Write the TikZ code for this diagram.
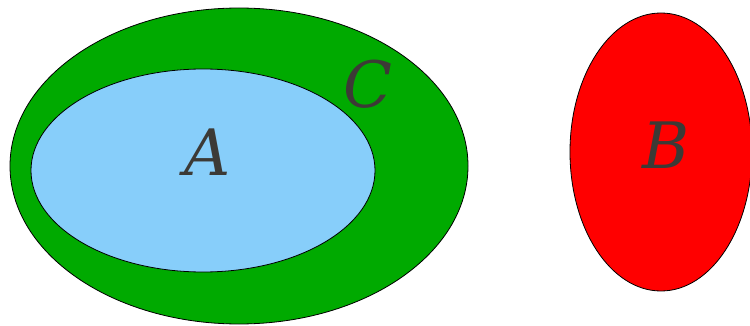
\documentclass[tikz,border=0pt]{standalone}
\usepackage{fontspec}
\newfontfamily\lblfont{DejaVu Serif}
\definecolor{cgreen}{HTML}{00AA00}
\definecolor{cblue}{HTML}{87CEFA}
\definecolor{cred}{HTML}{FF0000}
\definecolor{ctext}{HTML}{3C3A36}
\begin{document}
\begin{tikzpicture}[x=1pt,y=-1pt,
  setshape/.style={draw=black,line width=0.8pt},
  lbl/.style={text=ctext,font=\lblfont\itshape\fontsize{64}{64}\selectfont,inner sep=0pt}]
\useasboundingbox (0,0) rectangle (750,326);
\fill[white] (0,0) rectangle (750,326);
\draw[setshape,fill=cgreen] (239,166) ellipse [x radius=229, y radius=158];
\draw[setshape,fill=cblue] (203,170.5) ellipse [x radius=172, y radius=101.5];
\draw[setshape,fill=cred] (661,152) ellipse [x radius=91, y radius=139];
\node[lbl] (A) at (208,152) {A};
\node[lbl] (C) at (368,84) {C};
\node[lbl] (B) at (666,145) {B};
\end{tikzpicture}
\end{document}
